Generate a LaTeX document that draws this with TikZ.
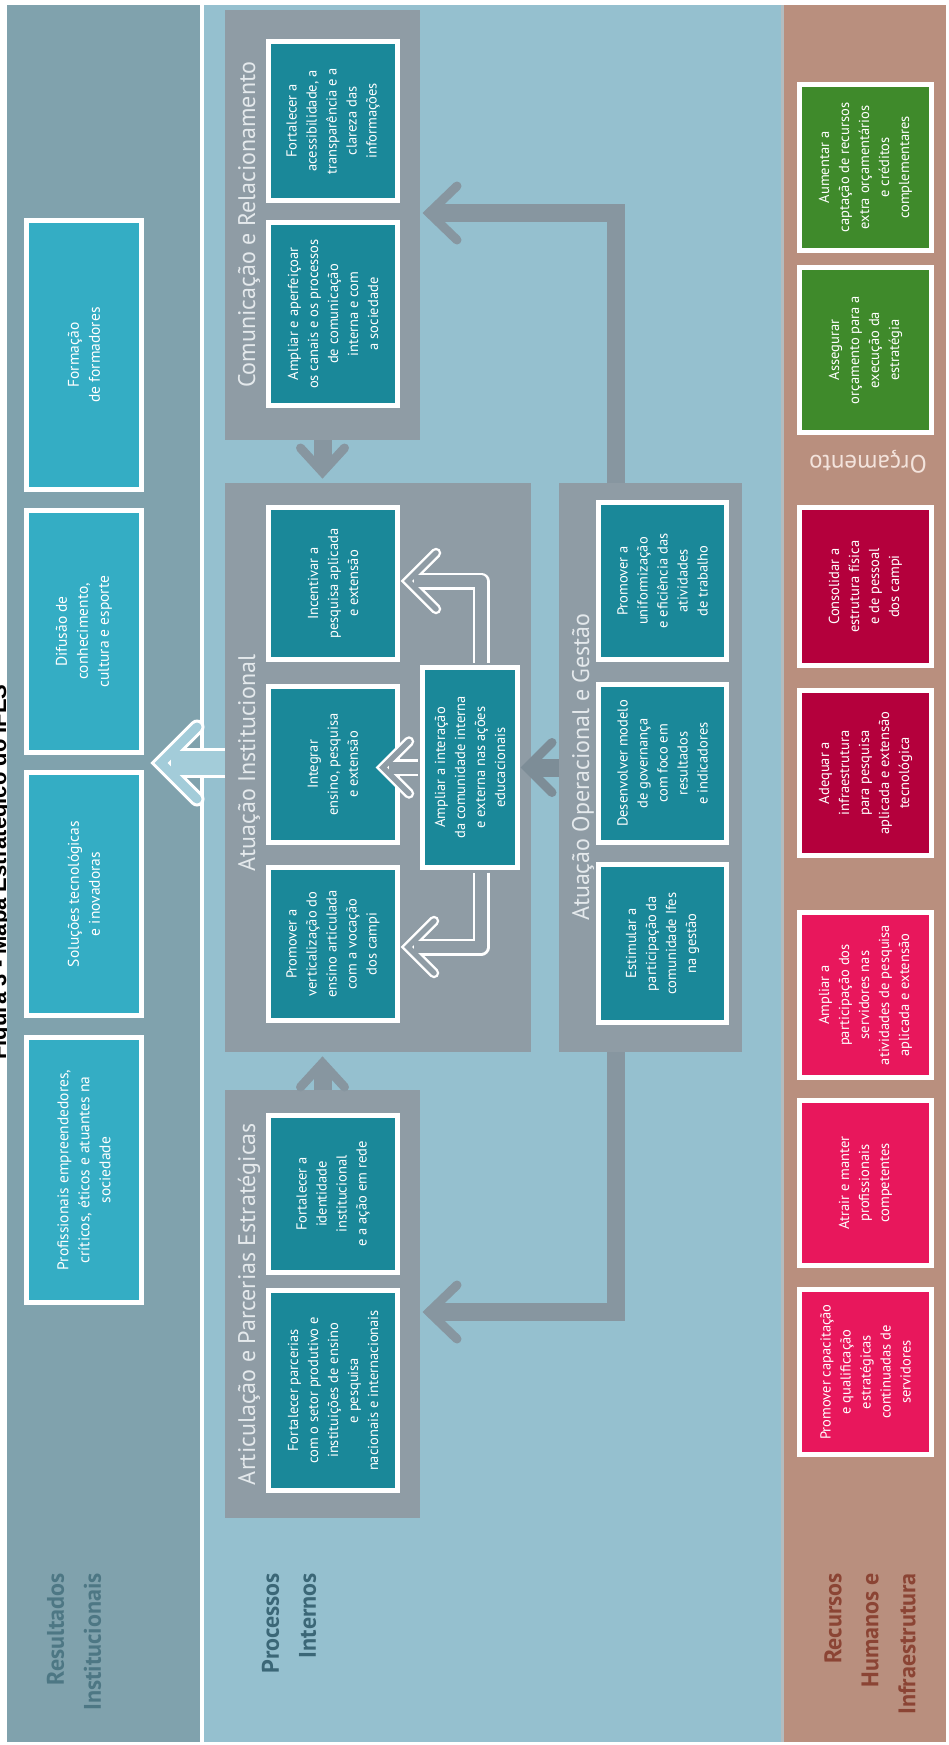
\documentclass[tikz,border=0pt]{standalone}
\usepackage{fontspec}
\setmainfont{PT Sans}
\newfontfamily\titlefont{Liberation Sans}
\usetikzlibrary{calc}

\definecolor{resband}{HTML}{80A2AD}
\definecolor{procband}{HTML}{95C0CF}
\definecolor{brownband}{HTML}{B98F7E}
\definecolor{sepline}{HTML}{B3BCBF}
\definecolor{grayblk}{HTML}{8F9CA5}
\definecolor{arrowgray}{HTML}{8796A0}
\definecolor{arrowdark}{HTML}{7D8D97}
\definecolor{tealc}{HTML}{1A8899}
\definecolor{cyanc}{HTML}{34ADC4}
\definecolor{greenc}{HTML}{3F8A2B}
\definecolor{crimc}{HTML}{B4003C}
\definecolor{pinkc}{HTML}{E8175C}
\definecolor{lightarrow}{HTML}{A3CCD9}
\definecolor{reslab}{HTML}{4D7784}
\definecolor{proclab}{HTML}{3B6777}
\definecolor{reclab}{HTML}{8B4434}
\definecolor{titlec}{HTML}{E4E9EC}
\definecolor{orcc}{HTML}{F3E3DC}

% #1 style, #2 name, #3 x1, #4 y1, #5 x2, #6 y2 (outer edges), #7 text
\newcommand\kbox[7]{%
  \node[#1, minimum width={(#6-#4-5)*1pt}, minimum height={(#5-#3-5)*1pt}]
    (#2) at ({(#3+#5)/2},{(#4+#6)/2}) {#7};}

\begin{document}
\begin{tikzpicture}[x=1pt,y=-1pt,
  kboxstyle/.style={rotate=90, inner sep=0pt, draw=white, line width=5pt,
    align=center, text=white, font=\fontsize{14.5}{20}\selectfont},
  tealbox/.style={kboxstyle, fill=tealc},
  cyanbox/.style={kboxstyle, fill=cyanc, font=\fontsize{15.5}{21}\selectfont},
  greenbox/.style={kboxstyle, fill=greenc},
  crimbox/.style={kboxstyle, fill=crimc},
  pinkbox/.style={kboxstyle, fill=pinkc},
  graybox/.style={rotate=90, inner sep=0pt, draw=grayblk, line width=5pt, fill=grayblk},
  grouptitle/.style={rotate=90, anchor=base, inner sep=0pt, text=titlec,
    font=\fontsize{24}{28}\selectfont},
  bandlabel/.style={rotate=90, anchor=east, align=right, inner sep=0pt,
    font=\bfseries\fontsize{24}{37}\selectfont},
  flow/.style={draw=arrowgray, line width=18pt, line join=miter},
  flowhead/.style={draw=arrowgray, line width=9pt, line join=miter, line cap=round},
  wshaftA/.style={draw=white, line width=17pt, line join=round},
  wshaftB/.style={draw=grayblk, line width=12pt, line join=round},
  wheadA/.style={draw=white, line width=10.5pt, line join=miter, line cap=round},
  wheadB/.style={draw=grayblk, line width=5.5pt, line join=miter, line cap=round},
  bshaftA/.style={draw=white, line width=30pt},
  bshaftB/.style={draw=lightarrow, line width=24pt},
  bheadA/.style={draw=white, line width=15pt, line join=miter, line cap=round},
  bheadB/.style={draw=lightarrow, line width=9pt, line join=miter, line cap=round}]

\useasboundingbox (0,0) rectangle (948,1745);
\clip (0,0) rectangle (948,1745);
\fill[white] (0,0) rectangle (948,1745);

% caption running along the left edge
\node[rotate=90, anchor=base, inner sep=0pt,
  font=\titlefont\bfseries\fontsize{22}{26}\selectfont] (caption) at (6,872)
  {Figura 3 - Mapa Estratégico do IFES};

% perspective bands
\fill[resband] (7,5) rectangle (200,1742);
\fill[procband] (204,5) rectangle (781,1742);
\fill[sepline] (781,5) rectangle (784,1742);
\fill[brownband] (784,5) rectangle (946,1742);

\node[bandlabel, text=reslab] (lres) at (74,1573) {Resultados\\Institucionais};
\node[bandlabel, text=proclab] (lproc) at (289,1573) {Processos\\Internos};
\node[bandlabel, text=reclab] (lrec) at (870,1573) {Recursos\\Humanos e\\Infraestrutura};

% institutional results
\kbox{cyanbox}{r1}{24}{218}{144}{492}{Formação\\de formadores}
\kbox{cyanbox}{r2}{24}{508}{144}{755}{Difusão de\\conhecimento,\\cultura e esporte}
\kbox{cyanbox}{r3}{24}{770}{144}{1018}{Soluções tecnológicas\\e inovadoras}
\kbox{cyanbox}{r4}{24}{1035}{144}{1305}{Profissionais empreendedores,\\críticos, éticos e atuantes na\\sociedade}

% internal process groups
\kbox{graybox}{comm}{225}{10}{420}{440}{}
\kbox{graybox}{ainst}{225}{483}{531}{1052}{}
\kbox{graybox}{opg}{559}{483}{742}{1052}{}
\kbox{graybox}{art}{225}{1090}{420}{1518}{}

\node[grouptitle] (tcomm) at (255,225) {Comunicação e Relacionamento};
\node[grouptitle] (tainst) at (255,763) {Atuação Institucional};
\node[grouptitle] (topg) at (589,767) {Atuação Operacional e Gestão};
\node[grouptitle] (tart) at (255,1304) {Articulação e Parcerias Estratégicas};

\kbox{tealbox}{c1}{266}{39}{400}{203}{Fortalecer a\\acessibilidade, a\\transparência e a\\clareza das\\informações}
\kbox{tealbox}{c2}{266}{220}{400}{408}{Ampliar e aperfeiçoar\\os canais e os processos\\de comunicação\\interna e com\\a sociedade}
\kbox{tealbox}{incent}{266}{505}{400}{662}{Incentivar a\\pesquisa aplicada\\e extensão}
\kbox{tealbox}{integ}{266}{684}{400}{845}{Integrar\\ensino, pesquisa\\e extensão}
\kbox{tealbox}{promv}{266}{865}{400}{1023}{Promover a\\verticalização do\\ensino articulada\\com a vocação\\dos campi}
\kbox{tealbox}{amp}{420}{665}{520}{870}{Ampliar a interação\\da comunidade interna\\e externa nas ações\\educacionais}
\kbox{tealbox}{o1}{596}{500}{729}{662}{Promover a\\uniformização\\e eficiência das\\atividades\\de trabalho}
\kbox{tealbox}{o2}{596}{682}{729}{845}{Desenvolver modelo\\de governança\\com foco em\\resultados\\e indicadores}
\kbox{tealbox}{o3}{596}{862}{729}{1025}{Estimular a\\participação da\\comunidade Ifes\\na gestão}
\kbox{tealbox}{a1}{266}{1113}{400}{1275}{Fortalecer a\\identidade\\institucional\\e a ação em rede}
\kbox{tealbox}{a2}{266}{1288}{400}{1493}{Fortalecer parcerias\\com o setor produtivo e\\instituições de ensino\\e pesquisa\\nacionais e internacionais}

% people, infrastructure and budget
\kbox{greenbox}{g1}{797}{82}{934}{253}{Aumentar a\\captação de recursos\\extra orçamentários\\e créditos\\complementares}
\kbox{greenbox}{g2}{797}{265}{934}{435}{Assegurar\\orçamento para a\\execução da\\estratégia}
\node[rotate=180, inner sep=0pt, text=orcc, font=\fontsize{25}{30}\selectfont] (orc) at (868,462) {Orçamento};
\kbox{crimbox}{h1}{797}{505}{934}{668}{Consolidar a\\estrutura física\\e de pessoal\\dos campi}
\kbox{crimbox}{h2}{797}{688}{934}{858}{Adequar a\\infraestrutura\\para pesquisa\\aplicada e extensão\\tecnológica}
\kbox{pinkbox}{h3}{797}{910}{934}{1080}{Ampliar a\\participação dos\\servidores nas\\atividades de pesquisa\\aplicada e extensão}
\kbox{pinkbox}{h4}{797}{1098}{934}{1268}{Atrair e manter\\profissionais\\competentes}
\kbox{pinkbox}{h5}{797}{1287}{934}{1457}{Promover capacitação\\e qualificação\\estratégicas\\continuadas de\\servidores}

% solid grey connectors
\coordinate (t1) at ($(comm.west |- ainst.east)+(0,-11)$);
\draw[flow] (comm.west) -- ($(t1)+(0,-4)$);
\draw[flowhead] (t1) ++(-22,-24) -- (t1) -- ++(22,-24);

\coordinate (t2) at ($(art.east |- ainst.west)+(0,11)$);
\draw[flow] (art.east) -- ($(t2)+(0,4)$);
\draw[flowhead] (t2) ++(-22,24) -- (t2) -- ++(22,24);

\coordinate (lt) at (616,213);
\coordinate (t3) at ($(comm.south |- lt)+(9,0)$);
\draw[flow] (opg.east -| lt) -- (lt) -- ($(t3)+(4,0)$);
\draw[flowhead] (t3) ++(28,-27) -- (t3) -- ++(28,27);

\coordinate (lb) at (616,1312);
\coordinate (t4) at ($(art.south |- lb)+(9,0)$);
\draw[flow] (opg.west -| lb) -- (lb) -- ($(t4)+(4,0)$);
\draw[flowhead] (t4) ++(28,-27) -- (t4) -- ++(28,27);

\coordinate (t5) at ($(amp.south)+(7,0)$);
\draw[flow, draw=arrowdark] (opg.north |- amp.south) -- ($(t5)+(4,0)$);
\draw[flowhead, draw=arrowdark] (t5) ++(25,-25) -- (t5) -- ++(25,25);

% outlined connectors inside Atuação Institucional
\coordinate (ut) at (481,581);
\coordinate (t6) at ($(incent.south |- ut)+(8,0)$);
\coordinate (t7) at ($(amp.north)+(-37,0)$);
\coordinate (ub) at (481,947);
\coordinate (t8) at ($(promv.south |- ub)+(8,0)$);

\draw[wshaftA] ($(amp.east -| ut)+(0,-2.5)$) -- (ut) -- ($(t6)+(6,0)$);
\draw[wshaftA] ($(amp.north)+(-2.5,0)$) -- ($(t7)+(6,0)$);
\draw[wshaftA] ($(amp.west -| ub)+(0,2.5)$) -- (ub) -- ($(t8)+(6,0)$);
\draw[wheadA] (t6) ++(28,-28) -- (t6) -- ++(28,28);
\draw[wheadA] (t7) ++(26,-26) -- (t7) -- ++(26,26);
\draw[wheadA] (t8) ++(26,-26) -- (t8) -- ++(26,26);
\draw[wshaftB] ($(amp.east -| ut)+(0,-2.5)$) -- (ut) -- ($(t6)+(6,0)$);
\draw[wshaftB] ($(amp.north)+(-2.5,0)$) -- ($(t7)+(6,0)$);
\draw[wshaftB] ($(amp.west -| ub)+(0,2.5)$) -- (ub) -- ($(t8)+(6,0)$);
\draw[wheadB] (t6) ++(28,-28) -- (t6) -- ++(28,28);
\draw[wheadB] (t7) ++(26,-26) -- (t7) -- ++(26,26);
\draw[wheadB] (t8) ++(26,-26) -- (t8) -- ++(26,26);

% large arrow from the processes to the results
\coordinate (ba) at (ainst.north |- 0,763);
\coordinate (bt) at ($(ba)+(-64,0)$);
\draw[bshaftA] (ba) -- ($(bt)+(10,0)$);
\draw[bheadA] (bt) ++(36,-36) -- (bt) -- ++(36,36);
\draw[bshaftB] (ba) -- ($(bt)+(10,0)$);
\draw[bheadB] (bt) ++(36,-36) -- (bt) -- ++(36,36);

\end{tikzpicture}
\end{document}
